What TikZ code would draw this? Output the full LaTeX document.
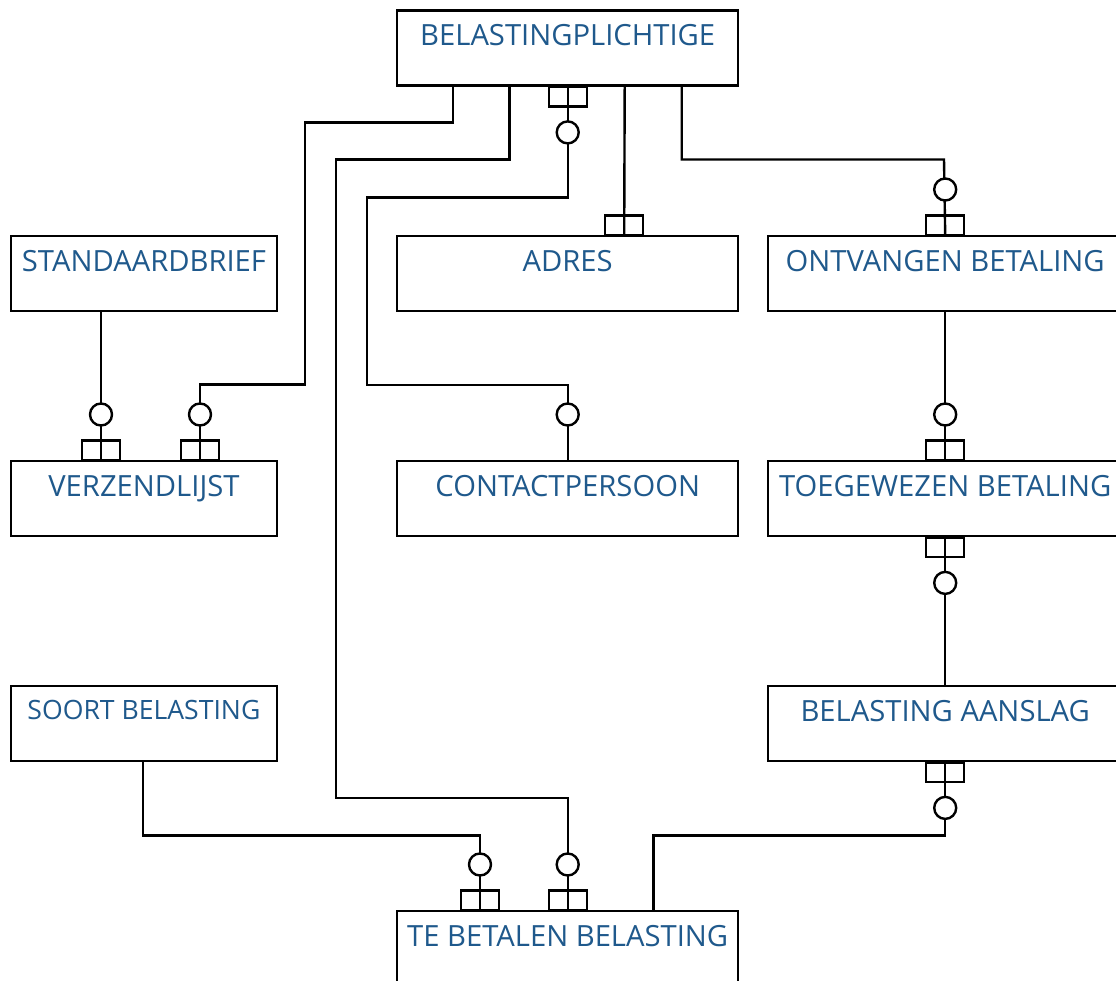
\documentclass[tikz,border=0pt]{standalone}
\usepackage{fontspec}
\setmainfont{Open Sans}
\usetikzlibrary{calc}
\definecolor{txt}{RGB}{31,89,140}
\tikzset{
  ent/.style={draw=black, line width=2.4pt, fill=white, rectangle, anchor=north west,
    inner sep=0pt, text height=35pt, text depth=40pt, minimum height=75pt,
    text=txt, font=\fontsize{29.2}{34}\selectfont},
  entsmall/.style={ent, font=\fontsize{26.6}{31}\selectfont, text height=33.5pt, text depth=41.5pt},
  conn/.style={draw=black, line width=2.4pt},
  barbox/.pic={\draw[line width=2.4pt, fill=none] (-19,0) rectangle (19,-19.5);},
  ring/.pic={\draw[line width=2.4pt, fill=white] (0,-45.5) circle (11);},
  zeroone/.pic={\draw[line width=2.4pt] (-19,0) rectangle (19,-19.5);
                \draw[line width=2.4pt, fill=white] (0,-45.5) circle (11);}
}
\begin{document}
\begin{tikzpicture}[x=1pt,y=-1pt]
\useasboundingbox (0,0) rectangle (1116,981);
\clip (0,0) rectangle (1116,981);
\fill[white] (0,0) rectangle (1116,981);

\node[ent, minimum width=341pt] (bp) at (396,9.5) {BELASTINGPLICHTIGE};
\node[ent, minimum width=265.5pt] (sb) at (10,235) {STANDAARDBRIEF};
\node[ent, minimum width=341pt] (ad) at (396,235) {ADRES};
\node[ent, minimum width=354pt] (ob) at (767,235) {ONTVANGEN BETALING};
\node[ent, minimum width=265.5pt] (vz) at (10,460) {VERZENDLIJST};
\node[ent, minimum width=341pt] (cp) at (396,460) {CONTACTPERSOON};
\node[ent, minimum width=354pt] (tb) at (767,460) {TOEGEWEZEN BETALING};
\node[entsmall, minimum width=265.5pt] (so) at (10,685) {SOORT BELASTING};
\node[ent, minimum width=354pt] (ba) at (767,685) {BELASTING AANSLAG};
\node[ent, minimum width=341pt] (tbb) at (396,910) {TE BETALEN BELASTING};

% connectors
\draw[conn] ([xshift=57pt]bp.south west) |- (305,122.5) -- (305,384.5) -| ([xshift=190pt]vz.north west);
\draw[conn] ([xshift=113.5pt]bp.south west) |- (336,159.5) -- (336,798) -| (tbb.north);
\draw[conn] (bp.south) |- (367,197.5) -- (367,385) -| (cp.north);
\draw[conn] ([xshift=57pt]bp.south) -- ([xshift=56.5pt]ad.north);
\draw[conn] ([xshift=114pt]bp.south) |- (944,159.5) -- (ob.north);
\draw[conn] ([xshift=91pt]sb.south west) -- ([xshift=91pt]vz.north west);
\draw[conn] (ob.south) -- (tb.north);
\draw[conn] (tb.south) -- (ba.north);
\draw[conn] (ba.south) |- (653.5,835.5) -- ([xshift=257.5pt]tbb.north west);
\draw[conn] ([xshift=133pt]so.south west) |- (480,835.5) -- ([xshift=84pt]tbb.north west);

% end symbols
\pic at ([xshift=190pt]vz.north west) {zeroone};
\pic at ([xshift=91pt]vz.north west) {zeroone};
\pic at (tbb.north) {zeroone};
\pic at ([xshift=84pt]tbb.north west) {zeroone};
\pic at (cp.north) {ring};
\pic at ([xshift=56.5pt]ad.north) {barbox};
\pic at (ob.north) {zeroone};
\pic at (tb.north) {zeroone};
\pic[rotate=180] at (bp.south) {zeroone};
\pic[rotate=180] at (tb.south) {zeroone};
\pic[rotate=180] at (ba.south) {zeroone};
\end{tikzpicture}
\end{document}
